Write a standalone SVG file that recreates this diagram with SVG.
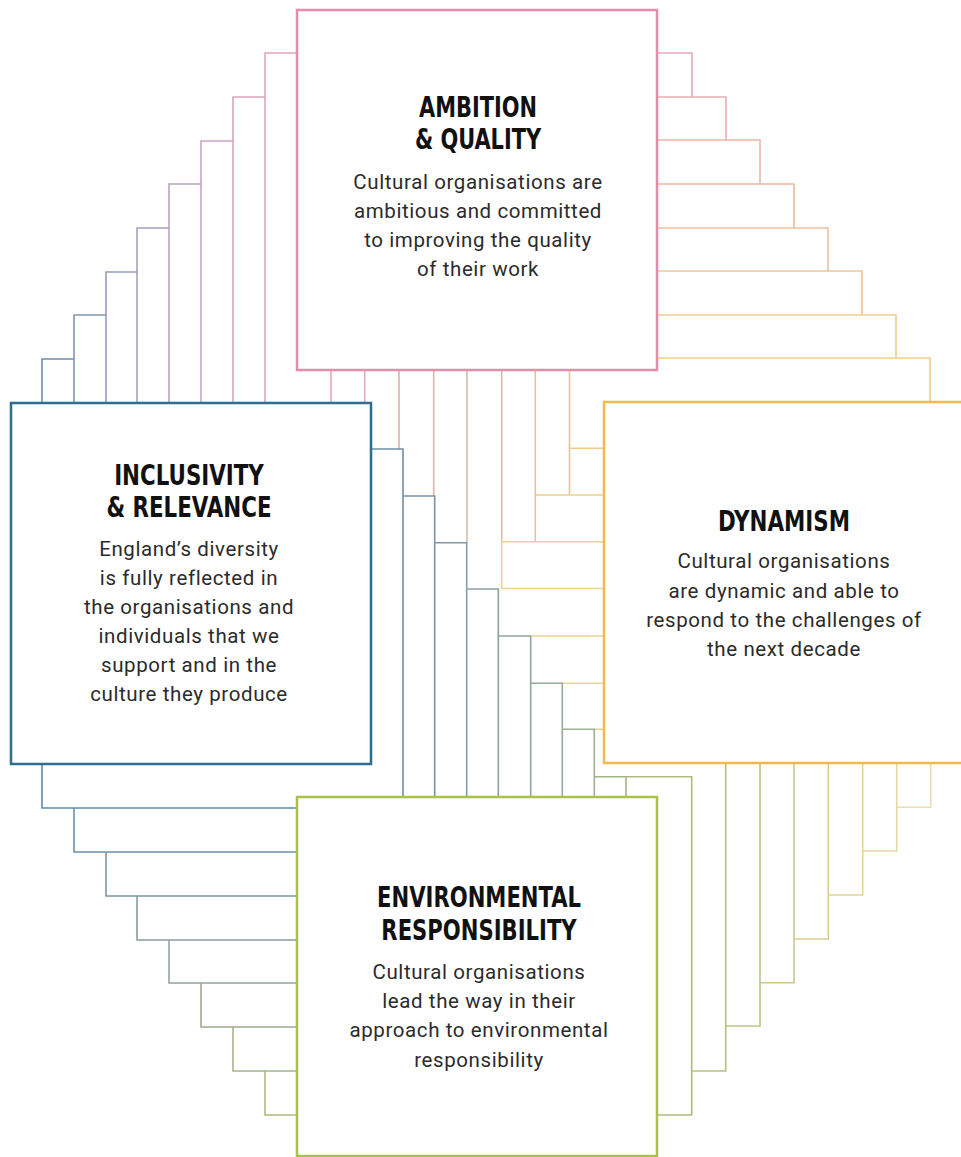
<svg xmlns="http://www.w3.org/2000/svg" width="961" height="1157" viewBox="0 0 961 1157">
<style>
.box{fill:#fff;stroke-width:2.5}
.st{fill:none;stroke-width:1.6}
.title{font-family:"Liberation Sans Narrow","DejaVu Sans Condensed","Roboto Condensed",sans-serif;font-weight:bold;font-size:28px;fill:#111;text-anchor:middle}
.body{font-family:Roboto,"Liberation Sans",sans-serif;font-size:20.5px;letter-spacing:0.6px;fill:#2b2b2b;text-anchor:middle}
</style>
<rect width="961" height="1157" fill="#fff"/>
<g id="connectors">
<!-- top-left staircase -->
<polyline class="st" stroke="#E3A6BA" points="297,53 265,53 265,403"/>
<polyline class="st" stroke="#D9A6BC" points="265,97 233,97 233,403"/>
<polyline class="st" stroke="#CBA5BE" points="233,141 201,141 201,403"/>
<polyline class="st" stroke="#BBA3BF" points="201,184 169,184 169,403"/>
<polyline class="st" stroke="#A8A0BE" points="169,228 137,228 137,403"/>
<polyline class="st" stroke="#969DBA" points="137,272 106,272 106,403"/>
<polyline class="st" stroke="#8396B3" points="106,315 74,315 74,403"/>
<polyline class="st" stroke="#6F8CAB" points="74,359 42,359 42,403"/>
<!-- top-right staircase -->
<polyline class="st" stroke="#E6A9B8" points="657,53 692,53 692,97"/>
<polyline class="st" stroke="#E8AFB2" points="657,97 726,97 726,140"/>
<polyline class="st" stroke="#EAB5AB" points="657,140 760,140 760,184"/>
<polyline class="st" stroke="#ECBBA4" points="657,184 794,184 794,228"/>
<polyline class="st" stroke="#EEC09D" points="657,228 828,228 828,271"/>
<polyline class="st" stroke="#F0C596" points="657,271 862,271 862,315"/>
<polyline class="st" stroke="#F1CA8F" points="657,315 896,315 896,358"/>
<polyline class="st" stroke="#F2CE88" points="657,358 930,358 930,402"/>
<!-- bottom-left staircase -->
<polyline class="st" stroke="#5E8BAA" points="42,764 42,808 297,808"/>
<polyline class="st" stroke="#6C91A6" points="74,808 74,852 297,852"/>
<polyline class="st" stroke="#7A97A2" points="106,852 106,896 297,896"/>
<polyline class="st" stroke="#889D9E" points="137,896 137,940 297,940"/>
<polyline class="st" stroke="#94A49A" points="169,940 169,983 297,983"/>
<polyline class="st" stroke="#9FAB92" points="201,983 201,1027 297,1027"/>
<polyline class="st" stroke="#A8B38A" points="233,1027 233,1071 297,1071"/>
<polyline class="st" stroke="#AFBB80" points="265,1071 265,1115 297,1115"/>
<!-- bottom-right staircase -->
<polyline class="st" stroke="#EBDDAE" points="930.7,763 930.7,807.3 896.7,807.3"/>
<polyline class="st" stroke="#E5D9A2" points="896.7,763 896.7,851 862.7,851"/>
<polyline class="st" stroke="#DED596" points="862.7,763 862.7,895 828.3,895"/>
<polyline class="st" stroke="#D6D08C" points="828.3,763 828.3,939 794,939"/>
<polyline class="st" stroke="#CDCB86" points="794,763 794,982.7 760,982.7"/>
<polyline class="st" stroke="#C2C582" points="760,763 760,1026 725.7,1026"/>
<polyline class="st" stroke="#B8C07E" points="725.7,763 725.7,1071 691.7,1071"/>
<polyline class="st" stroke="#AEBB7C" points="626,776.7 691.7,776.7 691.7,1115 657,1115"/>
<!-- centre: verticals from top box -->
<polyline class="st" stroke="#E6A8B8" points="331,370 331,403"/>
<polyline class="st" stroke="#E4ABB4" points="364.7,370 364.7,403"/>
<polyline class="st" stroke="#E2AFB0" points="399,370 399,449"/>
<polyline class="st" stroke="#E0B4AC" points="433.7,370 433.7,496"/>
<polyline class="st" stroke="#DEB8A8" points="467,370 467,542.7"/>
<polyline class="st" stroke="#DCBCA2" points="501.7,370 501.7,541.7"/>
<polyline class="st" stroke="#DFC29C" points="535.3,370 535.3,541.7"/>
<polyline class="st" stroke="#E2C896" points="569.5,370 569.5,495"/>
<!-- centre: horizontals to right box -->
<polyline class="st" stroke="#EDCC84" points="569.5,448.3 604,448.3"/>
<polyline class="st" stroke="#EDCF88" points="535.3,495 604,495"/>
<polyline class="st" stroke="#EDD28C" points="501.7,541.7 604,541.7"/>
<polyline class="st" stroke="#EDD48E" points="501.7,541.7 501.7,588.5 604,588.5"/>
<polyline class="st" stroke="#EAD794" points="530.7,636 604,636"/>
<polyline class="st" stroke="#E6D896" points="562.3,683.3 604,683.3"/>
<polyline class="st" stroke="#E0D694" points="594.3,729.3 604,729.3"/>
<!-- centre: staircase from left box -->
<polyline class="st" stroke="#6E8FA6" points="371,449 403,449 403,797"/>
<polyline class="st" stroke="#7896A6" points="403,496 434.7,496 434.7,797"/>
<polyline class="st" stroke="#819CA4" points="434.7,542.7 466.7,542.7 466.7,797"/>
<polyline class="st" stroke="#8AA1A0" points="466.7,589 498.3,589 498.3,797"/>
<polyline class="st" stroke="#91A69C" points="498.3,636 530.7,636 530.7,797"/>
<polyline class="st" stroke="#98AA98" points="530.7,683.3 562.3,683.3 562.3,797"/>
<polyline class="st" stroke="#9EAF92" points="562.3,729.3 594.3,729.3 594.3,797"/>
<polyline class="st" stroke="#A4B38C" points="594.3,776.7 626,776.7 626,797"/>
</g>
<g id="node-ambition">
<rect class="box" stroke="#E58DA8" x="297" y="10" width="360" height="360"/>
<text class="title" transform="translate(478,117) scale(0.83,1)">AMBITION</text>
<text class="title" transform="translate(478,149) scale(0.83,1)">&amp; QUALITY</text>
<text class="body" x="478" y="189">Cultural organisations are</text>
<text class="body" x="478" y="218">ambitious and committed</text>
<text class="body" x="478" y="247">to improving the quality</text>
<text class="body" x="478" y="276">of their work</text>
</g>
<g id="node-inclusivity">
<rect class="box" stroke="#2D6E93" x="11" y="403" width="360" height="361"/>
<text class="title" transform="translate(189,485) scale(0.85,1)">INCLUSIVITY</text>
<text class="title" transform="translate(189,517) scale(0.85,1)">&amp; RELEVANCE</text>
<text class="body" x="189" y="556">England’s diversity</text>
<text class="body" x="189" y="585">is fully reflected in</text>
<text class="body" x="189" y="614">the organisations and</text>
<text class="body" x="189" y="643">individuals that we</text>
<text class="body" x="189" y="672">support and in the</text>
<text class="body" x="189" y="701">culture they produce</text>
</g>
<g id="node-dynamism">
<rect class="box" stroke="#F2B94B" x="604" y="402" width="360" height="361"/>
<text class="title" transform="translate(784,531) scale(0.85,1)">DYNAMISM</text>
<text class="body" x="784" y="568">Cultural organisations</text>
<text class="body" x="784" y="598">are dynamic and able to</text>
<text class="body" x="784" y="627">respond to the challenges of</text>
<text class="body" x="784" y="656">the next decade</text>
</g>
<g id="node-environmental">
<rect class="box" stroke="#A9C34A" x="297" y="797" width="360" height="359"/>
<text class="title" transform="translate(479,907) scale(0.84,1)">ENVIRONMENTAL</text>
<text class="title" transform="translate(479,940) scale(0.84,1)">RESPONSIBILITY</text>
<text class="body" x="479" y="979">Cultural organisations</text>
<text class="body" x="479" y="1008">lead the way in their</text>
<text class="body" x="479" y="1037">approach to environmental</text>
<text class="body" x="479" y="1067">responsibility</text>
</g>
</svg>
